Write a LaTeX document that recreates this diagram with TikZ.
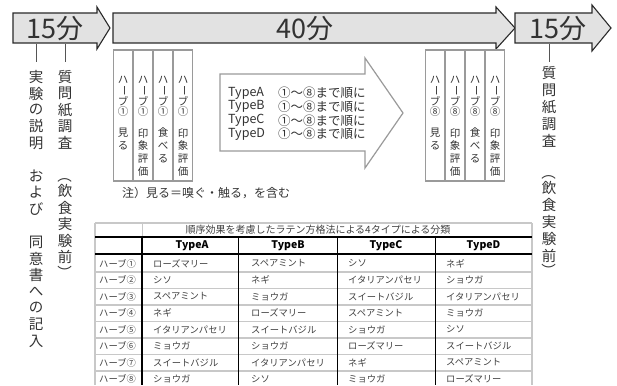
\documentclass[tikz,border=0pt]{standalone}
\usepackage{fontspec}
\setmainfont{Noto Sans CJK JP}
\definecolor{txt}{HTML}{333333}
\definecolor{arrfill}{HTML}{E2E2E2}
\definecolor{arrline}{HTML}{2A2A2A}
\definecolor{stripc}{HTML}{9A9A9A}
\definecolor{tickc}{HTML}{555555}
\definecolor{rowc}{HTML}{C8C8C8}
\definecolor{celltxt}{HTML}{404040}
\tikzset{
  arr/.style={draw=arrline, fill=arrfill, line width=1.1pt, line join=miter},
  big/.style={font=\fontsize{27}{27}\selectfont, text=txt, inner sep=0pt},
  tickln/.style={draw=tickc, line width=1pt},
  vch/.style={font=\fontsize{14.5}{14.5}\selectfont, text=txt, inner sep=0pt},
  sch/.style={font=\fontsize{10.5}{10.5}\selectfont, text=txt, inner sep=0pt},
  stripbox/.style={draw=stripc, line width=1.2pt, fill=white},
  hollow/.style={draw=stripc, line width=1.2pt, fill=white, line join=miter},
  tline/.style={font=\fontsize{12.5}{12.5}\selectfont, text=txt, inner sep=0pt, anchor=west},
  notetxt/.style={font=\fontsize{12}{12}\selectfont, text=txt, inner sep=0pt, anchor=west},
  ttitle/.style={font=\fontsize{10}{10}\selectfont, text=celltxt, inner sep=0pt},
  thead/.style={font=\fontsize{10.5}{10.5}\selectfont\bfseries, text=black, inner sep=0pt},
  tcell/.style={font=\fontsize{9.3}{9.3}\selectfont, text=celltxt, inner sep=0pt, anchor=west},
  grayln/.style={draw=rowc, line width=1.4pt},
  blackthick/.style={draw=black, line width=2pt},
  blackthin/.style={draw=black, line width=0.9pt},
}
\begin{document}
\begin{tikzpicture}[x=1pt,y=-1pt]
\useasboundingbox (0,0) rectangle (617,385);

% ---- timeline arrows
\draw[arr] (13,13) -- (97,13) -- (97,7) -- (110,28) -- (97,49) -- (97,43) -- (13,43) -- cycle;
\draw[arr] (113,13) -- (496,13) -- (496,7) -- (515,28) -- (496,49) -- (496,43) -- (113,43) -- cycle;
\draw[arr] (515,13) -- (592,13) -- (592,5) -- (611,28) -- (592,51) -- (592,43) -- (515,43) -- cycle;
\node[big] (t1) at (55,29) {15分};
\node[big] (t2) at (305,29) {40分};
\node[big] (t3) at (558,29) {15分};

% ---- ticks
\coordinate (k1a) at (36,44); \coordinate (k1b) at (36,62);
\coordinate (k2a) at (65,44); \coordinate (k2b) at (65,62);
\coordinate (k3a) at (549,44); \coordinate (k3b) at (549,62);
\draw[tickln] (k1a) -- (k1b);
\draw[tickln] (k2a) -- (k2b);
\draw[tickln] (k3a) -- (k3b);

% ---- vertical labels
\foreach \c/\i in {実/0,験/1,の/2,説/3,明/4,お/6,よ/7,び/8,同/10,意/11,書/12,へ/13,の/14,記/15,入/16}
  \node[vch] (a\i) at (36,{77+16.5*\i}) {\c};
\foreach \c/\y [count=\i] in {質/77,問/93.5,紙/110,調/126.5,査/143,飲/191,食/207.5,実/224,験/240.5,前/257}
  \node[vch] (b\i) at (65,\y) {\c};
\node[vch, rotate=-90] (bpo) at (65,175.5) {（};
\node[vch, rotate=-90] (bpc) at (65,272.5) {）};
\foreach \c/\y [count=\i] in {質/73,問/90,紙/107,調/124,査/141,飲/188,食/205,実/222,験/239,前/256}
  \node[vch] (c\i) at (549,\y) {\c};
\node[vch, rotate=-90] (cpo) at (549,172.5) {（};
\node[vch, rotate=-90] (cpc) at (549,270.5) {）};

% ---- herb strips
\foreach \xo/\num/\g in {113/①/L,425/⑧/R}{
  \foreach \lab [count=\k from 0] in {{見,る},{印,象,評,価},{食,べ,る},{印,象,評,価}}{
    \draw[stripbox] ({\xo+20*\k+0.6},50) rectangle ({\xo+20*\k+19.4},181);
    \node[sch] (h\g-\k-a) at ({\xo+10+20*\k},80) {ハ};
    \node[sch, rotate=-90] (h\g-\k-b) at ({\xo+10+20*\k},91) {ー};
    \node[sch] (h\g-\k-c) at ({\xo+10+20*\k},101.5) {ブ};
    \node[sch] (h\g-\k-d) at ({\xo+10+20*\k},112) {\num};
    \foreach \ch [count=\j from 0] in \lab
      \node[sch] (s\g-\k-\j) at ({\xo+10+20*\k},{133+13*\j}) {\ch};
  }
}

% ---- hollow arrow
\draw[hollow] (220,74) -- (365,74) -- (365,58) -- (403,113) -- (365,168) -- (365,151) -- (220,151) -- cycle;
\foreach \t/\y in {A/93,B/106.7,C/120.3,D/134}{
  \node[tline] (ty\t) at (228,\y) {Type\t};
  \node[tline] (tr\t) at (278,\y) {①〜⑧まで順に};
}

% ---- note
\node[notetxt] (note) at (122,193) {注）見る＝嗅ぐ・触る，を含む};

% ---- table
\draw[grayln] (95,223) -- (532,223);
\draw[grayln] (95,223) -- (95,385);
\draw[grayln] (532,223) -- (532,385);
\draw[draw=rowc, line width=0.8pt] (142,223) -- (142,237);
\node[ttitle] (title) at (318,230) {順序効果を考慮したラテン方格法による4タイプによる分類};
\foreach \k in {1,...,7}
  \draw[grayln] (95,{255.5+16.5*\k}) -- (532,{255.5+16.5*\k});
\draw[blackthick] (95,237) -- (532,237);
\draw[blackthick] (95,254) -- (532,254);
\draw[draw=black, line width=1.6pt] (142,237) -- (142,385);
\draw[blackthin] (238,237) -- (238,385);
\draw[blackthin] (337,237) -- (337,385);
\draw[blackthin] (435,237) -- (435,385);
\node[thead] (hA) at (192,246) {TypeA};
\node[thead] (hB) at (288,246) {TypeB};
\node[thead] (hC) at (386,246) {TypeC};
\node[thead] (hD) at (483.5,246) {TypeD};
\foreach \n/\a/\b/\c/\d [count=\r from 0] in {
  ①/ローズマリー/スペアミント/シソ/ネギ,
  ②/シソ/ネギ/イタリアンパセリ/ショウガ,
  ③/スペアミント/ミョウガ/スイートバジル/イタリアンパセリ,
  ④/ネギ/ローズマリー/スペアミント/ミョウガ,
  ⑤/イタリアンパセリ/スイートバジル/ショウガ/シソ,
  ⑥/ミョウガ/ショウガ/ローズマリー/スイートバジル,
  ⑦/スイートバジル/イタリアンパセリ/ネギ/スペアミント,
  ⑧/ショウガ/シソ/ミョウガ/ローズマリー}{
  \node[tcell] (rl\r) at (99,{263.5+16.5*\r}) {ハーブ\n};
  \node[tcell] (ra\r) at (153,{263.5+16.5*\r}) {\a};
  \node[tcell] (rb\r) at (251,{263.5+16.5*\r}) {\b};
  \node[tcell] (rc\r) at (348,{263.5+16.5*\r}) {\c};
  \node[tcell] (rd\r) at (446,{263.5+16.5*\r}) {\d};
}
\end{tikzpicture}
\end{document}
